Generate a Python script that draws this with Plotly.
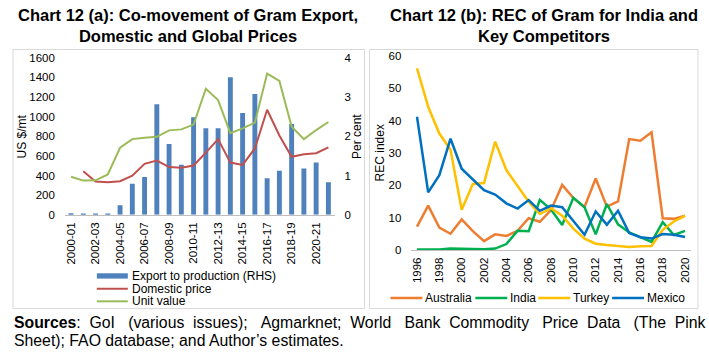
import plotly.graph_objects as go

# ---------------- data ----------------
years_a = ["2000-01", "2001-02", "2002-03", "2003-04", "2004-05", "2005-06", "2006-07",
           "2007-08", "2008-09", "2009-10", "2010-11", "2011-12", "2012-13", "2013-14",
           "2014-15", "2015-16", "2016-17", "2017-18", "2018-19", "2019-20", "2020-21",
           "2021-22"]
export_to_production = [0.04, 0.01, 0.02, 0.02, 0.24, 0.79, 0.96, 2.81, 1.80, 1.27, 2.48,
                        2.20, 2.20, 3.50, 2.59, 3.07, 0.93, 1.12, 2.31, 1.18, 1.33, 0.83]
domestic_price = [None, 443, 338, 331, 341, 397, 518, 551, 485, 479, 502, 633, 770, 531,
                  508, 675, 1069, 807, 590, 616, 626, 685]
unit_value = [387, 348, 351, 410, 682, 770, 784, 793, 859, 869, 918, 1282, 1167, 830, 879,
              938, 1436, 1361, 895, 770, 862, 944]
ticks_a = years_a[::2]

years_b = [1996, 1997, 1998, 1999, 2000, 2001, 2002, 2003, 2004, 2005, 2006, 2007, 2008,
           2009, 2010, 2011, 2012, 2013, 2014, 2015, 2016, 2017, 2018, 2019, 2020]
australia = [7.2, 13.7, 6.9, 5.0, 9.4, 5.8, 2.7, 4.8, 4.3, 5.9, 9.8, 8.7, 12.3, 20.1, 16.0,
             13.3, 22.1, 13.4, 15.0, 34.3, 33.8, 36.4, 9.8, 9.6, 10.6]
india = [0.1, 0.1, 0.1, 0.4, 0.3, 0.2, 0.2, 0.4, 1.8, 5.9, 5.8, 15.5, 12.5, 7.7, 16.1, 13.2,
         4.8, 14.2, 7.9, 5.4, 3.9, 2.5, 8.6, 4.6, 5.9]
turkey = [56.2, 44.3, 36.0, 31.0, 12.4, 20.4, 20.7, 33.5, 24.7, 19.7, 14.9, 11.1, 12.9, 10.6,
          6.6, 3.5, 1.9, 1.5, 1.3, 0.9, 1.1, 1.2, 6.2, 8.8, 10.5]
mexico = [41.2, 17.8, 23.1, 34.4, 25.1, 21.7, 18.5, 17.1, 14.4, 12.8, 15.4, 12.1, 13.7, 13.2,
          9.1, 4.7, 11.9, 7.8, 12.1, 5.2, 3.9, 3.5, 4.9, 4.7, 4.0]
ticks_b = years_b[::2]

# ---------------- layout helpers ----------------
W, H = 709, 360
def px(x):
    return x / W
def py(y):
    return 1 - y / H

FONT = "Liberation Sans, Arial, sans-serif"
TXT = "#000000"

C_BAR, C_DOM, C_UV = "#4F81BD", "#C0504D", "#9BBB59"
C_AUS, C_IND, C_TUR, C_MEX = "#ED7D31", "#00B050", "#FFC000", "#0070C0"

fig = go.Figure()

# left chart: bars on base (right side) axis, lines on overlaying left axis
fig.add_trace(go.Bar(x=years_a, y=export_to_production, name="Export to production (RHS)",
                     marker_color=C_BAR, marker_line_width=0, xaxis="x", yaxis="y"))
fig.add_trace(go.Scatter(x=years_a, y=domestic_price, name="Domestic price", mode="lines",
                         line=dict(color=C_DOM, width=2), xaxis="x", yaxis="y2"))
fig.add_trace(go.Scatter(x=years_a, y=unit_value, name="Unit value", mode="lines",
                         line=dict(color=C_UV, width=2), xaxis="x", yaxis="y2"))

# right chart
series_b = [("Australia", australia, C_AUS), ("India", india, C_IND),
            ("Turkey", turkey, C_TUR), ("Mexico", mexico, C_MEX)]
for name, vals, col in series_b:
    fig.add_trace(go.Scatter(x=years_b, y=vals, name=name, mode="lines",
                             line=dict(color=col, width=2.5), xaxis="x3", yaxis="y3"))

tickfont = dict(family=FONT, size=11.5, color=TXT)

fig.update_layout(
    width=W, height=H, autosize=False,
    margin=dict(l=0, r=0, t=0, b=0),
    paper_bgcolor="white", plot_bgcolor="white",
    bargap=0.6,
    showlegend=False,
    xaxis=dict(domain=[px(64), px(334)], anchor="y", type="category",
               tickmode="array", tickvals=ticks_a, ticktext=ticks_a, tickangle=-90,
               tickfont=tickfont, showgrid=False, zeroline=False,
               showline=True, linecolor="#BFBFBF", linewidth=1, ticks="",
               ticklabelstandoff=2),
    yaxis=dict(domain=[py(216), py(53.3)], anchor="x", side="right", range=[0, 4],
               tickvals=[0, 1, 2, 3, 4], tickfont=tickfont, showgrid=False,
               zeroline=False, showline=False, ticks="", ticklabelstandoff=9),
    yaxis2=dict(overlaying="y", side="left", anchor="x", range=[0, 1600],
                tickvals=[0, 200, 400, 600, 800, 1000, 1200, 1400, 1600],
                tickfont=tickfont, showgrid=False, zeroline=False, showline=False,
                ticks="", ticklabelstandoff=9),
    xaxis3=dict(domain=[px(411), px(690.6)], anchor="y3", range=[1995.5, 2020.5],
                tickmode="array", tickvals=ticks_b, tickangle=-90, tickfont=tickfont,
                showgrid=False, zeroline=False, showline=True, linecolor="#BFBFBF",
                linewidth=1, ticks="", ticklabelstandoff=2),
    yaxis3=dict(domain=[py(252.3), py(51.7)], anchor="x3", range=[0, 60],
                tickvals=[0, 10, 20, 30, 40, 50, 60], tickfont=tickfont, showgrid=False,
                zeroline=False, showline=False, ticks="", ticklabelstandoff=9),
)

# panel borders + legend keys
shapes = [
    dict(type="rect", xref="paper", yref="paper", x0=px(12), x1=px(364), y0=py(313),
         y1=py(45), line=dict(color="#D9D9D9", width=1), layer="below"),
    dict(type="rect", xref="paper", yref="paper", x0=px(369), x1=px(698), y0=py(313),
         y1=py(45), line=dict(color="#D9D9D9", width=1), layer="below"),
    dict(type="rect", xref="paper", yref="paper", x0=px(96), x1=px(127), y0=py(282),
         y1=py(276.5), fillcolor=C_BAR, line=dict(width=0)),
    dict(type="line", xref="paper", yref="paper", x0=px(96), x1=px(127), y0=py(292.5),
         y1=py(292.5), line=dict(color=C_DOM, width=2)),
    dict(type="line", xref="paper", yref="paper", x0=px(96), x1=px(127), y0=py(305.5),
         y1=py(305.5), line=dict(color=C_UV, width=2)),
]
legend_b_x = [390, 475, 538, 612]
for (name, vals, col), lx in zip(series_b, legend_b_x):
    shapes.append(dict(type="line", xref="paper", yref="paper", x0=px(lx), x1=px(lx + 32),
                       y0=py(302), y1=py(302), line=dict(color=col, width=2.5)))
fig.update_layout(shapes=shapes)

ann = []
# titles
TITLE_FONT = dict(family=FONT, size=16.5, color=TXT)
for txt, x in [("<b>Chart 12 (a): Co-movement of Gram Export,<br>Domestic and Global Prices</b>", 187),
               ("<b>Chart 12 (b): REC of Gram for India and<br>Key Competitors</b>", 544)]:
    ann.append(dict(text=txt, x=px(x), y=py(20), xref="paper", yref="paper",
                    xanchor="center", yanchor="middle", showarrow=False, align="center",
                    font=TITLE_FONT))
# axis titles
for txt, x, y in [("US $/mt", 21, 135), ("Per cent", 356, 135), ("REC index", 379, 152)]:
    ann.append(dict(text=txt, x=px(x), y=py(y), xref="paper", yref="paper",
                    xanchor="center", yanchor="middle", textangle=-90, showarrow=False,
                    font=dict(family=FONT, size=12, color=TXT)))
# left legend labels
for txt, y in [("Export to production (RHS)", 279), ("Domestic price", 292.5),
               ("Unit value", 305.5)]:
    ann.append(dict(text=txt, x=px(129), y=py(y), xref="paper", yref="paper",
                    xanchor="left", yanchor="middle", showarrow=False,
                    font=dict(family=FONT, size=12, color=TXT)))
# right legend labels
for (name, vals, col), lx in zip(series_b, legend_b_x):
    ann.append(dict(text=name, x=px(lx + 33), y=py(302), xref="paper", yref="paper",
                    xanchor="left", yanchor="middle", showarrow=False,
                    font=dict(family=FONT, size=12, color=TXT)))
# sources (first line justified with non-breaking spaces)
words1 = ["<b>Sources</b>:", "GoI", "(various", "issues);", "Agmarknet;", "World", "Bank",
          "Commodity", "Price", "Data", "(The", "Pink"]
gaps = [1, 2, 1, 2, 1, 2, 1, 2, 1, 2, 1]
line1 = words1[0]
for w, g in zip(words1[1:], gaps):
    line1 += " " + "\u00a0" * g + w
line2 = "Sheet); FAO database; and Author’s estimates."
for txt, y in [(line1, 327), (line2, 346)]:
    ann.append(dict(text=txt, x=px(11), y=py(y), xref="paper", yref="paper",
                    xanchor="left", yanchor="middle", showarrow=False, align="left",
                    font=dict(family=FONT, size=15.8, color=TXT)))
fig.update_layout(annotations=ann)

fig.write_html("out.html", config={"displayModeBar": False},
               post_script="document.body.style.margin='0';")
